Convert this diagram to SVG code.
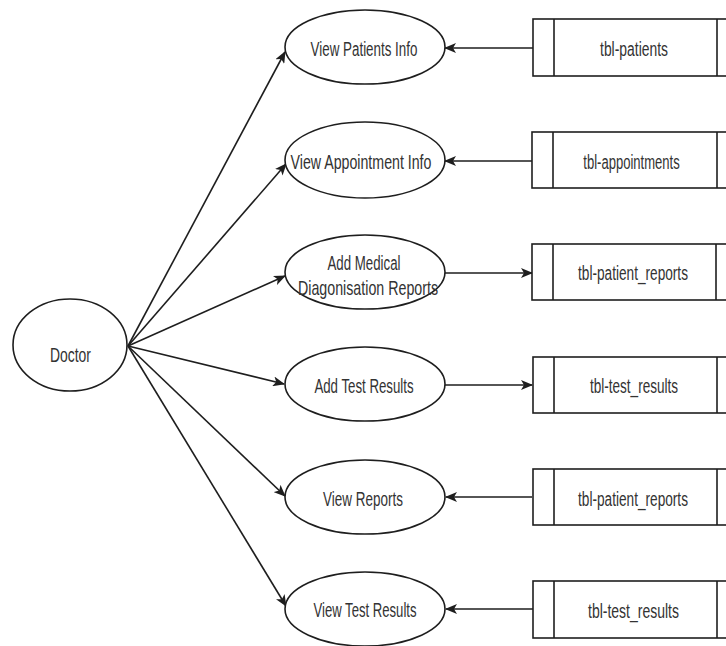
<svg xmlns="http://www.w3.org/2000/svg" width="726" height="646" viewBox="0 0 726 646">
  <style>
    .shape { fill: #ffffff; stroke: #1e1e1e; stroke-width: 1.6; }
    .edge { fill: none; stroke: #1e1e1e; stroke-width: 1.6; marker-end: url(#arrow); }
    .label { font-family: "Liberation Sans", Arial, sans-serif; font-size: 21px; fill: #333333; text-anchor: middle; }
  </style>
  <defs>
    <marker id="arrow" viewBox="0 0 12 10" refX="11" refY="5" markerWidth="12" markerHeight="10" markerUnits="userSpaceOnUse" orient="auto">
      <path d="M0,0 L12,5 L0,10 L3,5 z" fill="#1e1e1e"/>
    </marker>
  </defs>
  <rect width="726" height="646" fill="#ffffff"/>

  <!-- connectors -->
  <g id="connectors">
    <line class="edge" x1="128" y1="346" x2="285" y2="52"/>
    <line class="edge" x1="128" y1="346" x2="286" y2="164"/>
    <line class="edge" x1="128" y1="346" x2="285" y2="276"/>
    <line class="edge" x1="128" y1="346" x2="284" y2="384"/>
    <line class="edge" x1="128" y1="346" x2="285" y2="496"/>
    <line class="edge" x1="128" y1="346" x2="286" y2="606"/>
    <line class="edge" x1="533" y1="48" x2="445" y2="48"/>
    <line class="edge" x1="532" y1="161" x2="445" y2="161"/>
    <line class="edge" x1="445" y1="273" x2="532" y2="273"/>
    <line class="edge" x1="444" y1="385" x2="532" y2="385"/>
    <line class="edge" x1="532" y1="497" x2="446" y2="497"/>
    <line class="edge" x1="533" y1="609" x2="446" y2="609"/>
  </g>

  <!-- actor (labels use a narrow horizontal scale) -->
  <g id="doctor">
    <ellipse class="shape" cx="70" cy="345" rx="57" ry="46"/>
    <text class="label" transform="translate(70.5 362) scale(0.663 1)">Doctor</text>
  </g>

  <!-- processes -->
  <g id="view-patients-info">
    <ellipse class="shape" cx="365" cy="47" rx="80" ry="37"/>
    <text class="label" transform="translate(364 56) scale(0.637 1)">View Patients Info</text>
  </g>
  <g id="view-appointment-info">
    <ellipse class="shape" cx="365" cy="160" rx="80" ry="38"/>
    <text class="label" transform="translate(361 169) scale(0.676 1)">View Appointment Info</text>
  </g>
  <g id="add-medical-reports">
    <ellipse class="shape" cx="365" cy="272" rx="80" ry="37"/>
    <text class="label" transform="translate(364 270) scale(0.632 1)">Add Medical</text>
    <text class="label" transform="translate(368 295) scale(0.678 1)">Diagonisation Reports</text>
  </g>
  <g id="add-test-results">
    <ellipse class="shape" cx="365" cy="384" rx="80" ry="37"/>
    <text class="label" transform="translate(364 393) scale(0.632 1)">Add Test Results</text>
  </g>
  <g id="view-reports">
    <ellipse class="shape" cx="365" cy="497" rx="80" ry="37"/>
    <text class="label" transform="translate(363 506) scale(0.641 1)">View Reports</text>
  </g>
  <g id="view-test-results">
    <ellipse class="shape" cx="365" cy="609" rx="80" ry="37"/>
    <text class="label" transform="translate(365 617) scale(0.625 1)">View Test Results</text>
  </g>

  <!-- data stores -->
  <g id="tbl-patients">
    <rect class="shape" x="533" y="19" width="205" height="57"/>
    <line class="shape" x1="554" y1="19" x2="554" y2="76"/>
    <line class="shape" x1="717" y1="19" x2="717" y2="76"/>
    <text class="label" transform="translate(634 56) scale(0.662 1)">tbl-patients</text>
  </g>
  <g id="tbl-appointments">
    <rect class="shape" x="532" y="132" width="206" height="56"/>
    <line class="shape" x1="553" y1="132" x2="553" y2="188"/>
    <line class="shape" x1="717" y1="132" x2="717" y2="188"/>
    <text class="label" transform="translate(631.5 169) scale(0.622 1)">tbl-appointments</text>
  </g>
  <g id="tbl-patient-reports-in">
    <rect class="shape" x="532" y="244" width="206" height="56"/>
    <line class="shape" x1="553" y1="244" x2="553" y2="300"/>
    <line class="shape" x1="716" y1="244" x2="716" y2="300"/>
    <text class="label" transform="translate(633 280) scale(0.65 1)">tbl-patient_reports</text>
  </g>
  <g id="tbl-test-results-in">
    <rect class="shape" x="533" y="357" width="205" height="56"/>
    <line class="shape" x1="554" y1="357" x2="554" y2="413"/>
    <line class="shape" x1="717" y1="357" x2="717" y2="413"/>
    <text class="label" transform="translate(634 393) scale(0.645 1)">tbl-test_results</text>
  </g>
  <g id="tbl-patient-reports-out">
    <rect class="shape" x="533" y="469" width="205" height="56"/>
    <line class="shape" x1="554" y1="469" x2="554" y2="525"/>
    <line class="shape" x1="717" y1="469" x2="717" y2="525"/>
    <text class="label" transform="translate(633 506) scale(0.65 1)">tbl-patient_reports</text>
  </g>
  <g id="tbl-test-results-out">
    <rect class="shape" x="533" y="581" width="205" height="57"/>
    <line class="shape" x1="554" y1="581" x2="554" y2="638"/>
    <line class="shape" x1="717" y1="581" x2="717" y2="638"/>
    <text class="label" transform="translate(633.5 618) scale(0.667 1)">tbl-test_results</text>
  </g>
</svg>
